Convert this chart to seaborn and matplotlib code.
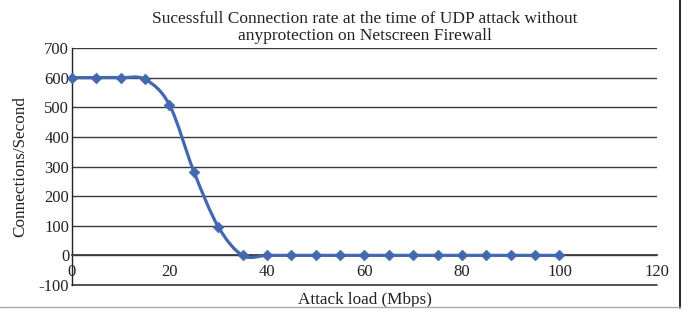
import matplotlib
matplotlib.use('Agg')
import matplotlib.pyplot as plt
import numpy as np
import pandas as pd
import seaborn as sns
from matplotlib.path import Path
from matplotlib.patches import PathPatch
from matplotlib.lines import Line2D

attack_load = [0, 5, 10, 15, 20, 25, 30, 35, 40, 45, 50, 55, 60, 65, 70, 75, 80, 85, 90, 95, 100]
connections = [600, 600, 600, 594, 508, 283, 97, 0, 0, 0, 0, 0, 0, 0, 0, 0, 0, 0, 0, 0, 0]
x_ticks = [0, 20, 40, 60, 80, 100, 120]
y_ticks = [-100, 0, 100, 200, 300, 400, 500, 600, 700]

line_col = '#4468AD'
grid_col = '#3a3a3a'
text_col = '#222222'

df = pd.DataFrame({'load': attack_load, 'cps': connections})

sns.set_theme(style='white')
plt.rcParams['font.family'] = ['Liberation Serif', 'DejaVu Serif']

fig = plt.figure(figsize=(6.9, 3.18), dpi=100)
ax = fig.add_axes([0.1043, 0.1038, 0.8478, 0.7452])


def smooth_path(xs, ys):
    # catmull-rom segments as cubic beziers, like a spreadsheet "smoothed line"
    pts = np.column_stack([xs, ys]).astype(float)
    verts = [pts[0]]
    codes = [Path.MOVETO]
    n = len(pts)
    for i in range(n - 1):
        p0 = pts[i - 1] if i > 0 else pts[i]
        p1, p2 = pts[i], pts[i + 1]
        p3 = pts[i + 2] if i + 2 < n else pts[i + 1]
        c1 = p1 + (p2 - p0) / 6
        c2 = p2 - (p3 - p1) / 6
        verts += [c1, c2, p2]
        codes += [Path.CURVE4] * 3
    return Path(verts, codes)


ax.add_patch(PathPatch(smooth_path(df['load'], df['cps']), fill=False,
                       edgecolor=line_col, lw=2.3, zorder=3))
sns.scatterplot(data=df, x='load', y='cps', ax=ax, marker='D', s=30,
                color=line_col, edgecolor=line_col, zorder=4, legend=False,
                clip_on=False)

ax.set_xlim(0, 120)
ax.set_ylim(-100, 700)
ax.set_xticks(x_ticks)
ax.set_yticks(y_ticks)
ax.set_yticklabels([str(v) for v in y_ticks])
ax.yaxis.grid(True, color=grid_col, lw=1)
ax.xaxis.grid(False)
ax.axhline(-100, color=grid_col, lw=1.2, clip_on=False)

for s in ['top', 'right']:
    ax.spines[s].set_visible(False)
ax.spines['left'].set_color(text_col)
ax.spines['left'].set_linewidth(1)
ax.spines['bottom'].set_position(('data', 0))
ax.spines['bottom'].set_color(grid_col)
ax.tick_params(axis='both', length=0, labelsize=12, colors=text_col)
ax.tick_params(axis='x', pad=6)
ax.tick_params(axis='y', pad=2)

ax.set_xlabel('Attack load (Mbps)', fontsize=12.3, color=text_col)
ax.xaxis.set_label_coords(0.5, -0.03)
ax.set_ylabel('Connections/Second', fontsize=12.3, color=text_col)
ax.yaxis.set_label_coords(-0.075, 0.5)
ax.set_title('Sucessfull Connection rate at the time of UDP attack without\nanyprotection on Netscreen Firewall',
             fontsize=12.5, color=text_col, pad=6, linespacing=1.02)

# outer frame edges visible in the source image
fig.add_artist(Line2D([0.986, 0.986], [0.03, 1.0], color='black', lw=1.2))
fig.add_artist(Line2D([0.0, 0.986], [0.035, 0.035], color='#aaaaaa', lw=1))

fig.savefig('out.png', dpi=100)
